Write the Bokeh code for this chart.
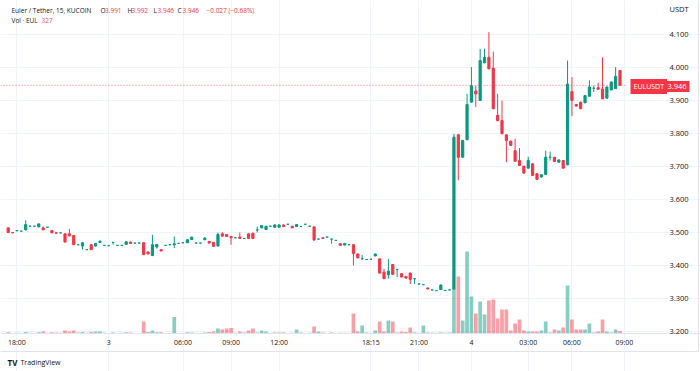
from bokeh.plotting import figure
from bokeh.models import Range1d, FixedTicker, NumeralTickFormatter, Label
from bokeh.embed import file_html
from bokeh.resources import INLINE

# ---------------- data (15-min bars, EUL/USDT, KuCoin) ----------------
opens = [3.514, 3.500, 3.505, 3.504, 3.508, 3.519, 3.519, 3.517, 3.514, 3.516,
         3.506, 3.499, 3.499, 3.496, 3.496, 3.491, 3.463, 3.459, 3.448, 3.463,
         3.459, 3.470, 3.461, 3.460, 3.470, 3.461, 3.461, 3.464, 3.471, 3.468,
         3.468, 3.469, 3.441, 3.430, 3.456, 3.448, 3.461, 3.463, 3.463, 3.467,
         3.469, 3.469, 3.479, 3.468, 3.468, 3.478, 3.473, 3.470, 3.459, 3.496,
         3.494, 3.488, 3.484, 3.486, 3.482, 3.496, 3.498, 3.508, 3.514, 3.509,
         3.519, 3.516, 3.516, 3.523, 3.525, 3.519, 3.518, 3.518, 3.525, 3.519,
         3.517, 3.480, 3.484, 3.486, 3.480, 3.476, 3.466, 3.462, 3.463, 3.463,
         3.435, 3.420, 3.418, 3.419, 3.429, 3.420, 3.380, 3.372, 3.403, 3.388,
         3.375, 3.367, 3.377, 3.360, 3.344, 3.342, 3.332, 3.326, 3.324, 3.327,
         3.324, 3.326, 3.329, 3.796, 3.728, 3.781, 3.895, 3.929, 3.900, 4.014,
         4.031, 3.998, 3.855, 3.839, 3.796, 3.777, 3.748, 3.718, 3.701, 3.695,
         3.708, 3.678, 3.668, 3.676, 3.728, 3.728, 3.713, 3.718, 3.705, 3.927,
         3.888, 3.895, 3.893, 3.913, 3.937, 3.939, 3.935, 3.907, 3.932, 3.936,
         3.991]
highs = [3.516, 3.501, 3.507, 3.505, 3.537, 3.520, 3.520, 3.527, 3.519, 3.517,
         3.507, 3.500, 3.500, 3.497, 3.511, 3.492, 3.464, 3.470, 3.449, 3.464,
         3.468, 3.475, 3.462, 3.461, 3.471, 3.462, 3.462, 3.473, 3.472, 3.469,
         3.469, 3.470, 3.442, 3.493, 3.465, 3.449, 3.462, 3.464, 3.488, 3.468,
         3.470, 3.479, 3.487, 3.469, 3.469, 3.486, 3.474, 3.471, 3.500, 3.501,
         3.495, 3.489, 3.485, 3.500, 3.483, 3.497, 3.499, 3.518, 3.522, 3.520,
         3.520, 3.524, 3.524, 3.524, 3.526, 3.520, 3.525, 3.519, 3.526, 3.520,
         3.518, 3.481, 3.485, 3.487, 3.481, 3.477, 3.467, 3.468, 3.464, 3.464,
         3.436, 3.432, 3.419, 3.420, 3.436, 3.421, 3.390, 3.420, 3.404, 3.390,
         3.376, 3.368, 3.378, 3.362, 3.345, 3.343, 3.333, 3.327, 3.325, 3.342,
         3.325, 3.327, 3.799, 3.799, 3.781, 3.920, 4.001, 3.945, 4.057, 4.057,
         4.107, 4.048, 3.920, 3.900, 3.797, 3.778, 3.784, 3.756, 3.702, 3.730,
         3.709, 3.679, 3.676, 3.748, 3.745, 3.729, 3.721, 3.719, 4.021, 3.971,
         3.889, 3.896, 3.916, 3.961, 3.945, 3.954, 4.031, 3.942, 3.957, 4.001,
         3.992]
lows = [3.499, 3.498, 3.505, 3.503, 3.507, 3.518, 3.518, 3.516, 3.507, 3.515,
        3.498, 3.498, 3.498, 3.470, 3.489, 3.462, 3.462, 3.448, 3.447, 3.447,
        3.458, 3.469, 3.460, 3.459, 3.463, 3.460, 3.460, 3.463, 3.466, 3.467,
        3.467, 3.432, 3.434, 3.429, 3.451, 3.443, 3.460, 3.462, 3.453, 3.466,
        3.468, 3.468, 3.478, 3.467, 3.467, 3.477, 3.467, 3.457, 3.458, 3.488,
        3.487, 3.463, 3.483, 3.481, 3.481, 3.481, 3.481, 3.500, 3.513, 3.508,
        3.518, 3.515, 3.515, 3.517, 3.524, 3.513, 3.517, 3.517, 3.524, 3.518,
        3.476, 3.479, 3.481, 3.485, 3.466, 3.475, 3.460, 3.461, 3.462, 3.400,
        3.422, 3.419, 3.417, 3.418, 3.428, 3.376, 3.359, 3.360, 3.372, 3.365,
        3.364, 3.361, 3.344, 3.344, 3.343, 3.341, 3.328, 3.325, 3.323, 3.326,
        3.323, 3.325, 3.326, 3.658, 3.727, 3.780, 3.894, 3.880, 3.899, 4.013,
        3.995, 3.874, 3.838, 3.798, 3.713, 3.763, 3.715, 3.702, 3.679, 3.694,
        3.672, 3.660, 3.667, 3.675, 3.718, 3.714, 3.712, 3.694, 3.704, 3.853,
        3.882, 3.874, 3.892, 3.912, 3.925, 3.933, 3.904, 3.906, 3.931, 3.935,
        3.946]
closes = [3.500, 3.499, 3.506, 3.504, 3.524, 3.519, 3.519, 3.526, 3.508, 3.516,
          3.499, 3.498, 3.499, 3.471, 3.490, 3.463, 3.463, 3.469, 3.448, 3.448,
          3.467, 3.474, 3.461, 3.460, 3.470, 3.461, 3.461, 3.472, 3.467, 3.468,
          3.468, 3.433, 3.435, 3.463, 3.464, 3.444, 3.461, 3.463, 3.466, 3.467,
          3.469, 3.478, 3.486, 3.468, 3.468, 3.483, 3.468, 3.458, 3.494, 3.489,
          3.488, 3.484, 3.484, 3.482, 3.482, 3.482, 3.482, 3.508, 3.521, 3.519,
          3.519, 3.523, 3.523, 3.518, 3.525, 3.514, 3.524, 3.518, 3.525, 3.519,
          3.477, 3.480, 3.482, 3.486, 3.480, 3.476, 3.461, 3.467, 3.463, 3.436,
          3.423, 3.420, 3.418, 3.419, 3.435, 3.377, 3.360, 3.383, 3.373, 3.388,
          3.365, 3.362, 3.358, 3.360, 3.344, 3.342, 3.329, 3.326, 3.324, 3.341,
          3.324, 3.326, 3.789, 3.728, 3.779, 3.888, 3.945, 3.920, 4.021, 4.031,
          3.996, 3.875, 3.839, 3.799, 3.779, 3.764, 3.716, 3.703, 3.680, 3.718,
          3.673, 3.661, 3.675, 3.728, 3.728, 3.715, 3.720, 3.695, 3.950, 3.900,
          3.883, 3.875, 3.915, 3.941, 3.937, 3.934, 3.905, 3.941, 3.956, 3.973,
          3.946]
volumes = [150, 80, 100, 60, 200, 100, 80, 150, 262, 100,
           180, 120, 100, 393, 262, 393, 120, 200, 100, 200,
           262, 262, 100, 80, 120, 80, 100, 150, 120, 80,
           60, 1572, 200, 393, 150, 180, 80, 60, 2160, 80,
           60, 150, 131, 60, 80, 131, 200, 262, 655, 524,
           655, 720, 100, 262, 131, 393, 655, 131, 393, 262,
           80, 131, 131, 150, 60, 100, 524, 131, 60, 100,
           917, 262, 131, 60, 131, 60, 100, 80, 60, 2620,
           262, 1048, 131, 80, 393, 1572, 262, 1703, 1572, 131,
           262, 200, 786, 150, 80, 1048, 131, 100, 80, 150,
           100, 131, 5895, 7467, 1703, 10742, 4847, 2620, 4192, 2489,
           4323, 4454, 1965, 3144, 3144, 393, 1310, 1834, 393, 262,
           262, 262, 393, 1572, 131, 524, 393, 786, 6288, 1834,
           524, 524, 524, 1310, 131, 262, 1834, 262, 131, 524,
           327]
tick_pos = [2, 23, 40, 51, 62, 83, 94, 106, 119, 129, 141]
tick_labels = ["18:00", "3", "06:00", "09:00", "12:00", "18:15", "21:00", "4", "03:00", "06:00", "09:00"]
price_ticks = [3.2, 3.3, 3.4, 3.5, 3.6, 3.7, 3.8, 3.9, 4.0, 4.1]
symbol = "EULUSDT"
title_text = "Euler / Tether, 15, KUCOIN"
quote = "USDT"
base = "EUL"

# ---------------- styling ----------------
UP = "#089981"
DOWN = "#F23645"
UP_VOL = "#0899817a"
DOWN_VOL = "#F236457a"
TXT = "#131722"
GRID = "#f0f3fa"
BORDER = "#e0e3eb"
FONT = "Open Sans"

# layout: one pixel of the 700x371 canvas -> data units
BAR_PX = 4.37      # horizontal pixels per bar
X0_PX = 7.7        # pixel centre of the first bar
def xd(px):
    return (px - X0_PX) / BAR_PX
def yd(py):
    return 3.2 + (331 - py) / 330.0

PANE_R = 628       # right edge of the price pane (px)
PANE_B = 333       # bottom edge of the price pane (px)

n = len(opens)
idx = list(range(n))
colors = [UP if c >= o else DOWN for o, c in zip(opens, closes)]
vcolors = [UP_VOL if c >= o else DOWN_VOL for o, c in zip(opens, closes)]
tops = [max(o, c) for o, c in zip(opens, closes)]
bots = [min(o, c) for o, c in zip(opens, closes)]

p = figure(width=700, height=371,
           x_range=Range1d(xd(0), xd(700)), y_range=Range1d(yd(371), yd(0)),
           output_backend="svg", toolbar_location=None, y_axis_location="right",
           min_border_left=0, min_border_top=0, min_border_right=0, min_border_bottom=0,
           outline_line_color=None, background_fill_color="white", border_fill_color="white")

# volume scale: 131 units per pixel, zero at the pane bottom
p.extra_y_ranges = {"vol": Range1d(-(371 - PANE_B) * 131, PANE_B * 131)}

# x axis (time scale), drawn at the pane bottom
p.xaxis.fixed_location = yd(PANE_B)
p.xaxis.ticker = FixedTicker(ticks=tick_pos)
p.xaxis.major_label_overrides = dict(zip(tick_pos, tick_labels))
p.xaxis.axis_line_color = BORDER
p.xaxis.major_tick_line_color = None
p.xaxis.minor_tick_line_color = None
p.xaxis.major_tick_out = 0
p.xaxis.major_tick_in = 0
p.xaxis.major_label_standoff = 4
p.xaxis.major_label_text_font = FONT
p.xaxis.major_label_text_font_size = "7px"
p.xaxis.major_label_text_color = TXT

# y axis (price scale), drawn at the pane's right edge
p.yaxis.fixed_location = xd(PANE_R)
p.yaxis.ticker = FixedTicker(ticks=price_ticks)
p.yaxis.formatter = NumeralTickFormatter(format="0.000")
p.yaxis.axis_line_color = None
p.yaxis.major_tick_line_color = None
p.yaxis.minor_tick_line_color = None
p.yaxis.major_tick_out = 0
p.yaxis.major_tick_in = 0
p.yaxis.major_label_standoff = 41
p.yaxis.major_label_text_font = FONT
p.yaxis.major_label_text_font_size = "7.5px"
p.yaxis.major_label_text_color = TXT

# grid limited to the pane
p.xgrid.grid_line_color = GRID
p.ygrid.grid_line_color = GRID
p.xgrid.bounds = (yd(PANE_B), yd(0))
p.ygrid.bounds = (xd(0), xd(PANE_R))

# widget border lines
p.segment(x0=[xd(0), xd(698)], y0=[yd(351), yd(0)], x1=[xd(698), xd(698)], y1=[yd(351), yd(351)],
          line_color=BORDER, line_width=1)

# volume
p.vbar(x=idx, width=0.85, top=volumes, bottom=0, fill_color=vcolors, line_color=None,
       y_range_name="vol")

# candles
p.segment(x0=idx, y0=highs, x1=idx, y1=lows, line_color=colors, line_width=1)
p.vbar(x=idx, width=0.5, top=tops, bottom=bots, fill_color=colors, line_color=colors, line_width=1)

# last price line
last = closes[-1]
p.segment(x0=[xd(0)], y0=[last], x1=[xd(PANE_R - 2)], y1=[last], line_color=DOWN,
          line_dash="1 2", line_width=1, line_alpha=0.7)

# legend texts
chg = closes[-1] - closes[-2]
pct = chg / closes[-2] * 100
def sgn(v, f):
    return ("\u2212" if v < 0 else "") + (f % abs(v))
line1 = [(title_text, 11, TXT), ("O", 100, TXT), ("%.3f" % opens[-1], 104.5, DOWN),
         ("H", 127, TXT), ("%.3f" % highs[-1], 131, DOWN),
         ("L", 153, TXT), ("%.3f" % lows[-1], 157, DOWN),
         ("C", 177, TXT), ("%.3f" % closes[-1], 182, DOWN),
         ("%s (%s%%)" % (sgn(chg, "%.3f"), sgn(pct, "%.2f")), 206, DOWN)]
for t, px, col in line1:
    p.add_layout(Label(x=xd(px), y=yd(9.5), text=t, text_color=col, text_font=FONT,
                       text_font_size="6.5px", text_baseline="middle", text_align="left"))
line2 = [("Vol \u00b7 " + base, 11, TXT), ("%d" % volumes[-1], 41, "#f7525f")]
for t, px, col in line2:
    p.add_layout(Label(x=xd(px), y=yd(19.5), text=t, text_color=col, text_font=FONT,
                       text_font_size="6.5px", text_baseline="middle", text_align="left"))

# price scale extras
p.add_layout(Label(x=xd(669), y=yd(8), text=quote, text_color=TXT, text_font=FONT,
                   text_font_size="7.5px", text_baseline="middle", text_align="left"))
p.add_layout(Label(x=xd(630), y=yd(86), text=symbol, text_color="white", text_font=FONT,
                   text_font_size="7px", text_baseline="middle", text_align="left",
                   background_fill_color=DOWN, padding=3))
p.add_layout(Label(x=xd(689), y=yd(86), text="%.3f" % last, text_color="white", text_font=FONT,
                   text_font_size="7.5px", text_baseline="middle", text_align="right",
                   background_fill_color=DOWN, padding=3))

# branding
p.add_layout(Label(x=xd(7), y=yd(362), text="TV", text_color=TXT, text_font=FONT,
                   text_font_size="8px", text_font_style="bold", text_baseline="middle",
                   text_align="left"))
p.add_layout(Label(x=xd(20), y=yd(362), text="TradingView", text_color=TXT, text_font=FONT,
                   text_font_size="7px", text_baseline="middle", text_align="left"))

open("out.html", "w").write(file_html(p, INLINE))
